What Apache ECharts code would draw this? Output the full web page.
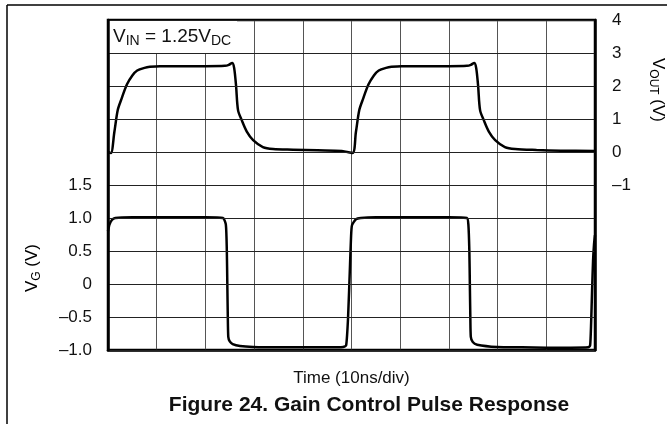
<!DOCTYPE html>
<html>
<head>
<meta charset="utf-8">
<script src="https://cdn.jsdelivr.net/npm/echarts@6/dist/echarts.min.js"></script>
<style>
  html, body { margin: 0; padding: 0; background: #fff; }
  #chart { width: 669px; height: 424px; }
</style>
</head>
<body>
<div id="chart"></div>
<script>
// Time base: 10 divisions of 10 ns each
const timeMin = 0;
const timeMax = 100;
const timeStep = 10;

// Output voltage trace (right axis, volts)
const voutTime = [0, 0.6, 1.3, 2.0, 2.7, 3.9, 5.0, 6.0, 7.5, 8.6, 10.7, 15, 20, 24.0, 24.8, 25.5, 25.9, 26.3, 26.7, 27.5, 28.5, 29.8, 31.8, 33.9, 38, 43, 48, 50.2,
  50.9, 51.6, 52.3, 53.5, 54.6, 55.6, 57.1, 58.2, 60.3, 65, 70, 73.7, 74.5, 75.2, 75.6, 76.0, 76.4, 77.2, 78.2, 79.5, 81.5, 83.6, 88, 93, 100];
const voutVal = [0, -0.03, 0.6, 1.27, 1.58, 2.05, 2.32, 2.47, 2.55, 2.58, 2.6, 2.6, 2.6, 2.61, 2.64, 2.7, 2.55, 2.0, 1.27, 0.95, 0.62, 0.36, 0.15, 0.09, 0.07, 0.05, 0.03, -0.03,
  0.6, 1.27, 1.58, 2.05, 2.32, 2.47, 2.55, 2.58, 2.6, 2.6, 2.6, 2.61, 2.64, 2.7, 2.55, 2.0, 1.27, 0.95, 0.62, 0.36, 0.15, 0.09, 0.06, 0.04, 0.03];

// Gain control voltage trace (left axis, volts)
const vgTime = [0, 0.3, 0.8, 1.5, 5, 10, 15, 20, 23.6, 24.2, 24.4, 24.5, 24.6, 24.7, 25.0, 25.6, 27.1, 29.8, 35, 40, 45, 48.3, 48.9, 49.3, 49.7, 49.9, 50.1, 50.9, 51.9,
  55, 60, 65, 70, 73.7, 74.0, 74.2, 74.3, 74.4, 74.5, 74.9, 75.8, 79.9, 85, 90, 95, 98.6, 99.0, 99.2, 99.4, 99.6, 99.8, 100];
const vgVal = [0.8, 0.9, 0.97, 1.0, 1.01, 1.01, 1.01, 1.01, 1.0, 0.9, 0.5, 0.0, -0.5, -0.8, -0.87, -0.91, -0.94, -0.955, -0.96, -0.96, -0.96, -0.955, -0.93, -0.5, 0.3, 0.7, 0.89, 0.98, 1.0,
  1.01, 1.01, 1.01, 1.01, 1.0, 0.9, 0.5, 0.0, -0.5, -0.8, -0.88, -0.92, -0.955, -0.96, -0.965, -0.965, -0.96, -0.93, -0.6, -0.1, 0.35, 0.6, 0.74];

// Axis ranges and labelled ticks
const vgMin = -1, vgMax = 4, vgStep = 0.5, vgLabelTop = 1.5;
const voutMin = -6, voutMax = 4, voutStep = 1, voutLabelBottom = -1;

const pair = (xs, ys) => xs.map((x, i) => [x, ys[i]]);
const dash = s => s.replace('-', '\u2013');

const chart = echarts.init(document.getElementById('chart'), null, { renderer: 'canvas' });
const font = 'Liberation Sans, Arial, Helvetica, sans-serif';
const subRich = {
  n: { fontSize: 17, fontFamily: font, color: '#111' },
  s: { fontSize: 12, fontFamily: font, color: '#111', padding: [9, 0, 0, 0] }
};
const boxRich = {
  n: { fontSize: 19, fontFamily: font, color: '#111' },
  s: { fontSize: 14, fontFamily: font, color: '#111', padding: [10, 0, 0, 0] }
};

chart.setOption({
  animation: false,
  backgroundColor: '#fff',
  grid: { left: 108, right: 74, top: 20, bottom: 74, show: true, borderColor: '#000', borderWidth: 2.5 },
  xAxis: {
    type: 'value', min: timeMin, max: timeMax, interval: timeStep,
    axisLine: { show: true, onZero: false, lineStyle: { color: '#000', width: 2.5 } },
    axisTick: { show: false },
    axisLabel: { show: false },
    splitLine: { show: true, lineStyle: { color: '#555', width: 1 } },
    name: 'Time (10ns/div)', nameLocation: 'middle', nameGap: 20,
    nameTextStyle: { fontSize: 17, fontFamily: font, color: '#111' }
  },
  yAxis: [
    {
      type: 'value', min: vgMin, max: vgMax, interval: vgStep, position: 'left', z: 10,
      axisLine: { show: true, onZero: false, lineStyle: { color: '#000', width: 2.5 } },
      axisTick: { show: false },
      axisLabel: {
        margin: 16, fontSize: 17, fontFamily: font, color: '#111',
        formatter: v => v > vgLabelTop + 1e-9 ? '' : (v === 0 ? '0' : dash(v.toFixed(1)))
      },
      splitLine: { show: true, lineStyle: { color: '#222', width: 1 } }
    },
    {
      type: 'value', min: voutMin, max: voutMax, interval: voutStep, position: 'right', z: 10,
      axisLine: { show: true, onZero: false, lineStyle: { color: '#000', width: 2.5 } },
      axisTick: { show: false },
      axisLabel: {
        margin: 17, fontSize: 17, fontFamily: font, color: '#111',
        formatter: v => v < voutLabelBottom - 1e-9 ? '' : dash(String(v))
      },
      splitLine: { show: false }
    }
  ],
  series: [
    {
      name: 'VOUT', type: 'line', yAxisIndex: 1, data: pair(voutTime, voutVal),
      showSymbol: false, smooth: 0.3, lineStyle: { color: '#000', width: 2.5 },
      markArea: {
        silent: true,
        itemStyle: { color: '#fff', opacity: 1, borderWidth: 0 },
        label: {
          show: true, position: 'insideLeft', distance: 5,
          formatter: '{n|V}{s|IN}{n| = 1.25V}{s|DC}', rich: boxRich
        },
        data: [[{ xAxis: 0, yAxis: 3 }, { xAxis: 26.5, yAxis: 4 }]]
      }
    },
    {
      name: 'VG', type: 'line', yAxisIndex: 0, data: pair(vgTime, vgVal),
      showSymbol: false, smooth: 0.2, lineStyle: { color: '#000', width: 2.5 }
    }
  ],
  graphic: [
    { type: 'line', shape: { x1: 7, y1: 5, x2: 667, y2: 5 }, style: { stroke: '#000', lineWidth: 1.5 } },
    { type: 'line', shape: { x1: 7, y1: 5, x2: 7, y2: 424 }, style: { stroke: '#000', lineWidth: 1.5 } },
    {
      type: 'text', x: 32, y: 268, rotation: Math.PI / 2,
      style: { text: '{n|V}{s|G}{n| (V)}', rich: subRich, align: 'center', verticalAlign: 'middle' }
    },
    {
      type: 'text', x: 658, y: 90, rotation: -Math.PI / 2,
      style: { text: '{n|V}{s|OUT}{n| (V)}', rich: subRich, align: 'center', verticalAlign: 'middle' }
    },
    {
      type: 'text', x: 369, y: 405,
      style: { text: 'Figure 24. Gain Control Pulse Response', font: 'bold 21px ' + font, fill: '#111', align: 'center', verticalAlign: 'middle' }
    }
  ]
});
</script>
</body>
</html>
